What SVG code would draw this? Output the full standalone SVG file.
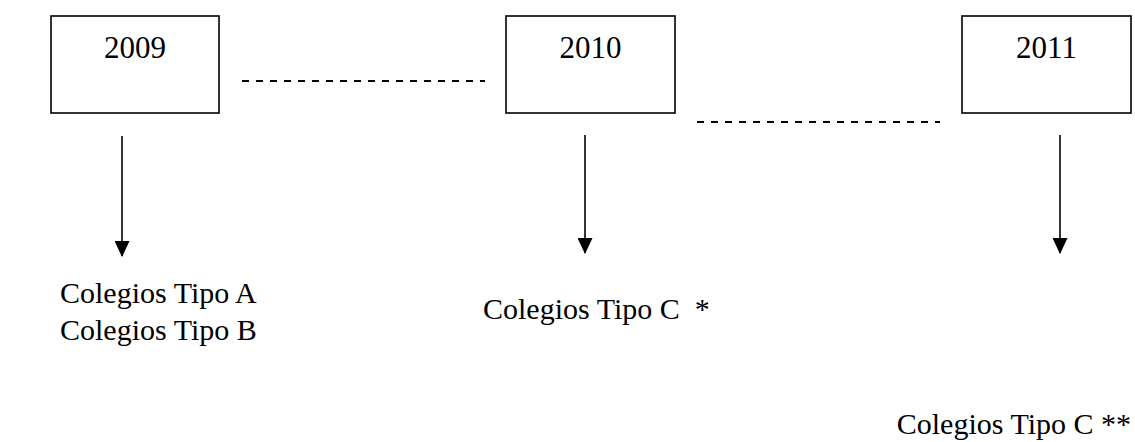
<svg xmlns="http://www.w3.org/2000/svg" width="1135" height="442" viewBox="0 0 1135 442">
  <style>
    .box { fill: #fff; stroke: #000; stroke-width: 1.6; }
    .year { font-family: "Liberation Serif", "Times New Roman", serif; font-size: 31px; fill: #000; text-anchor: middle; }
    .label { font-family: "Liberation Serif", "Times New Roman", serif; font-size: 30px; fill: #000; }
    .arrow { stroke: #000; stroke-width: 1.6; fill: none; marker-end: url(#head); }
    .dash { stroke: #000; stroke-width: 2; stroke-dasharray: 7 7; fill: none; }
  </style>
  <defs>
    <!-- solid triangular arrowhead, tip at the end of the line -->
    <marker id="head" markerWidth="16" markerHeight="15" viewBox="0 0 16 15" refX="15" refY="7.5" orient="auto" markerUnits="userSpaceOnUse">
      <path d="M0,0 L16,7.5 L0,15 Z" fill="#000"/>
    </marker>
  </defs>

  <rect width="1135" height="442" fill="#fff"/>

  <g id="y2009">
    <rect class="box" x="51" y="16" width="168" height="97"/>
    <text class="year" x="135" y="58">2009</text>
  </g>
  <g id="y2010">
    <rect class="box" x="506" y="16" width="169" height="97"/>
    <text class="year" x="590.5" y="58">2010</text>
  </g>
  <g id="y2011">
    <rect class="box" x="962" y="16" width="169" height="97"/>
    <text class="year" x="1046.5" y="58">2011</text>
  </g>

  <g id="connectors">
    <line class="dash" x1="242" y1="81" x2="485" y2="81"/>
    <line class="dash" x1="697" y1="122" x2="940" y2="122"/>
    <line class="arrow" x1="122" y1="136" x2="122" y2="256"/>
    <line class="arrow" x1="585" y1="135" x2="585" y2="253"/>
    <line class="arrow" x1="1060" y1="135" x2="1060" y2="253"/>
  </g>

  <g id="labels">
    <text class="label" x="60" y="303">Colegios Tipo A</text>
    <text class="label" x="60" y="340">Colegios Tipo B</text>
    <text class="label" x="483" y="319" xml:space="preserve">Colegios Tipo C  *</text>
    <text class="label" x="1131" y="434" text-anchor="end">Colegios Tipo C **</text>
  </g>
</svg>
